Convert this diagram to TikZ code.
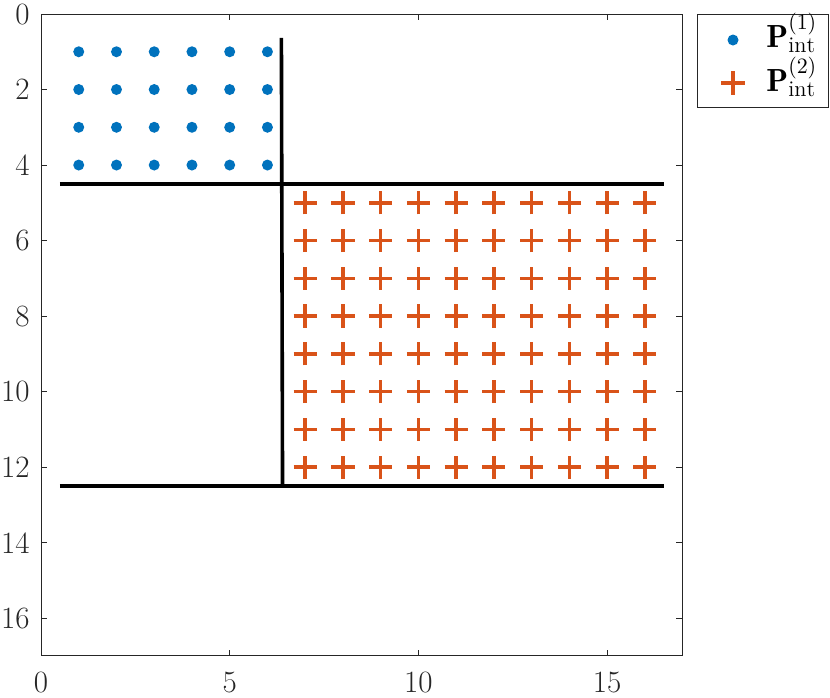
\documentclass[tikz,border=0pt]{standalone}
\usepackage{fontspec}
\usetikzlibrary{shapes.misc}
\definecolor{mblue}{RGB}{0,114,189}
\definecolor{morange}{RGB}{217,83,25}
\definecolor{axgray}{RGB}{38,38,38}
\begin{document}
\begin{tikzpicture}[x=0.5pt,y=-0.5pt,
  dot/.style={circle,fill=mblue,inner sep=0,minimum size=5.5pt},
  plusmark/.style={cross out,draw=morange,line width=1.8pt,inner sep=0,minimum size=6.4pt,rotate=45},
  bar/.style={line width=1.8pt,black},
  axline/.style={axgray,line width=0.5pt},
  ticklab/.style={inner sep=0,text=axgray,font=\fontsize{15.5}{18}\selectfont},
  legtext/.style={inner sep=0,anchor=base west,font=\fontsize{16}{19}\selectfont}]
\useasboundingbox (0,0) rectangle (830,697);
\fill[white] (0,0) rectangle (830,697);
\begin{scope}[shift={(41,14)},x=18.87pt,y=-18.88pt]
  % axes box
  \draw[axline] (0,0) rectangle (17,17);
  \foreach \xv in {0,5,10,15}{
    \draw[axline] (\xv,17) -- ++(0,-0.17);
    \draw[axline] (\xv,0) -- ++(0,0.17);
    \node[ticklab,anchor=north] (xl\xv) at ([yshift=-8pt]\xv,17) {\xv};
  }
  \foreach \yv in {0,2,...,16}{
    \draw[axline] (0,\yv) -- ++(0.17,0);
    \draw[axline] (17,\yv) -- ++(-0.17,0);
    \node[ticklab,anchor=east] (yl\yv) at ([xshift=-5.5pt]0,\yv) {\yv};
  }
  % separating lines
  \coordinate (v1) at (6.37,0.63);
  \coordinate (v2) at (6.40,12.5);
  \coordinate (h1a) at (0.5,4.5);
  \coordinate (h1b) at (16.5,4.5);
  \coordinate (h2a) at (0.5,12.5);
  \coordinate (h2b) at (16.5,12.5);
  \draw[bar] (v1) -- (v2);
  \draw[bar] (h1a) -- (h1b);
  \draw[bar] (h2a) -- (h2b);
  % points
  \foreach \i in {1,...,6}{
    \foreach \j in {1,...,4}{
      \node[dot] (b-\i-\j) at (\i,\j) {};
    }
  }
  \foreach \i in {7,...,16}{
    \foreach \j in {5,...,12}{
      \node[plusmark] (p-\i-\j) at (\i,\j) {};
    }
  }
\end{scope}
% legend
\draw[axline] (697,14) rectangle (828,107);
\node[dot] (ld) at (733,40) {};
\node[plusmark] (lp) at (733,83) {};
\node[legtext] (lt1) at (766,47) {$\mathbf{P}^{(1)}_{\mathrm{int}}$};
\node[legtext] (lt2) at (766,91) {$\mathbf{P}^{(2)}_{\mathrm{int}}$};
\end{tikzpicture}
\end{document}
